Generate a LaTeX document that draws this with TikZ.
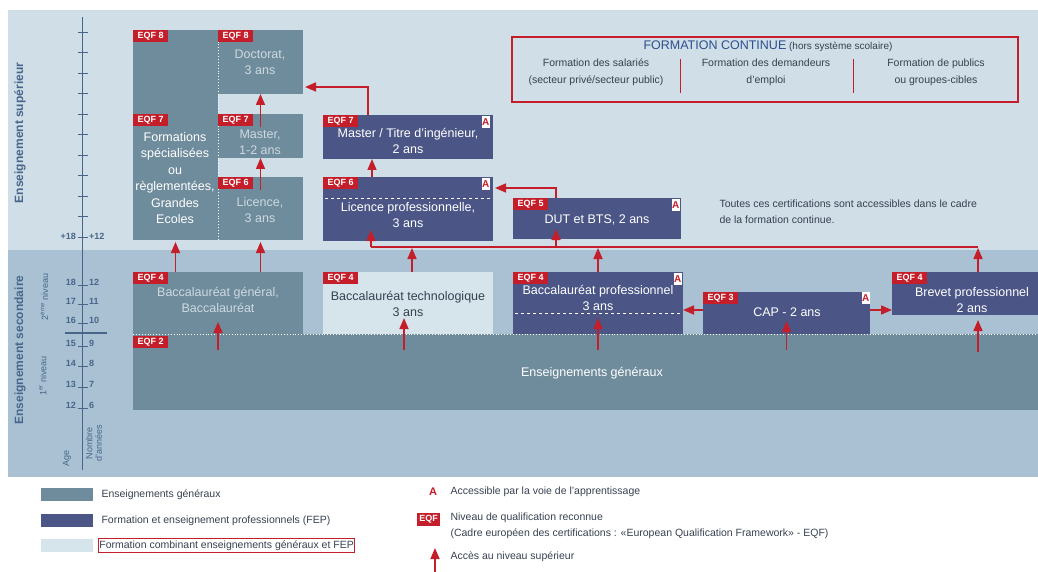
\documentclass[tikz,border=0pt]{standalone}
\usepackage{fontspec}
\setmainfont{Liberation Sans}
\usepackage{xcolor}
\usepackage{tikz}
\usetikzlibrary{arrows.meta,positioning,calc}
\definecolor{bgsup}{RGB}{208,222,231}
\definecolor{bgsec}{RGB}{169,193,210}
\definecolor{gen}{RGB}{111,140,156}
\definecolor{fep}{RGB}{75,86,134}
\definecolor{mix}{RGB}{214,228,236}
\definecolor{eqfred}{RGB}{196,30,42}
\definecolor{axisblue}{RGB}{72,102,138}
\definecolor{titleblue}{RGB}{46,79,142}
\definecolor{darktext}{RGB}{55,65,80}
\definecolor{pale}{RGB}{205,217,225}
\tikzset{
    bloc/.style={
        anchor=north west,
        inner sep=0pt,
        outer sep=0pt
    },
    genbox/.style={bloc, fill=gen},
    fepbox/.style={bloc, fill=fep},
    mixbox/.style={bloc, fill=mix},
    eqf/.style={
        anchor=north west,
        fill=eqfred,
        text=white,
        inner sep=0pt,
        minimum width=35pt,
        minimum height=12pt,
        font=\bfseries\fontsize{9}{9}\selectfont
    },
    atag/.style={
        anchor=north east,
        fill=white,
        text=eqfred,
        inner sep=0pt,
        minimum width=8pt,
        minimum height=12pt,
        font=\bfseries\fontsize{10}{10}\selectfont
    },
    boxtext/.style={
        align=center,
        text=white,
        font=\fontsize{12.5}{16.4}\selectfont
    },
    flow/.style={-{Triangle[length=11pt,width=9pt]}, draw=eqfred, line width=1.6pt},
    link/.style={draw=eqfred, line width=1.3pt},
    whiteline/.style={draw=white, dotted, line width=0.9pt},
    axisline/.style={draw=axisblue, line width=0.9pt},
    num/.style={text=axisblue, inner sep=1pt, font=\bfseries\fontsize{9}{9}\selectfont},
    sidetext/.style={rotate=90, text=axisblue, font=\bfseries\fontsize{12}{12}\selectfont},
    smallside/.style={rotate=90, text=axisblue, align=center, font=\fontsize{9}{9.5}\selectfont},
    fctext/.style={align=center, text=darktext, font=\fontsize{10.5}{17}\selectfont},
    legtext/.style={anchor=west, text=darktext, font=\fontsize{10.5}{16}\selectfont}
}
\newcommand{\expo}[1]{\textsuperscript{#1}}

\begin{document}
\begin{tikzpicture}[x=1pt, y=-1pt]
        \useasboundingbox (0,0) rectangle (1038,572);
        \fill[bgsup] (8,10) rectangle (1038,250);
        \fill[bgsec] (8,250) rectangle (1038,477);

        \draw[axisline] (82,17) -- (82,470);
        \foreach \i in {0,...,10}
            \draw[axisline] (78,{32+20.5*\i}) -- (88,{32+20.5*\i});
        \node[num, anchor=east] (plus18) at (77,236) {+18};
        \node[num, anchor=west] (plus12) at (88,236) {+12};
        \foreach \a/\n/\y in {18/12/282,17/11/301,16/10/320,15/9/343,14/8/363,13/7/384,12/6/405} {
            \draw[axisline] (78,{\y+3}) -- (88,{\y+3});
            \node[num, anchor=east] (age\a) at (77,\y) {\a};
            \node[num, anchor=west] (an\n) at (88,\y) {\n};
        }
        \draw[axisblue, line width=1.3pt] (65,333) -- (107,333);
        \node[sidetext] (sup) at (20,133) {Enseignement supérieur};
        \node[sidetext] (sec) at (20,350) {Enseignement secondaire};
        \node[smallside] (niv2) at (44,297) {2\expo{ème} niveau};
        \node[smallside] (niv1) at (43,376) {1\expo{er} niveau};
        \node[smallside] (age) at (67,458) {Age};
        \node[smallside] (nbans) at (94,443) {Nombre\\d'années};

        \node[genbox, minimum width=85pt, minimum height=210pt] (fspec) at (133,30) {};
        \node[genbox, minimum width=85pt, minimum height=64pt] (doct) at (218,30) {};
        \node[genbox, minimum width=85pt, minimum height=44pt] (mast) at (218,114) {};
        \node[genbox, minimum width=85pt, minimum height=63pt] (lic) at (218,177) {};
        \node[fepbox, minimum width=170pt, minimum height=44pt] (ming) at (323,115) {};
        \node[fepbox, minimum width=170pt, minimum height=64pt] (licpro) at (323,177) {};
        \node[fepbox, minimum width=168pt, minimum height=41pt] (dut) at (513,198) {};
        \node[genbox, minimum width=170pt, minimum height=62pt] (bacgen) at (133,272) {};
        \node[mixbox, minimum width=170pt, minimum height=62pt] (bactech) at (323,272) {};
        \node[fepbox, minimum width=170pt, minimum height=62pt] (bacpro) at (513,272) {};
        \node[fepbox, minimum width=167pt, minimum height=42pt] (cap) at (703,292) {};
        \node[fepbox, minimum width=146pt, minimum height=43pt] (brevet) at (892,272) {};
        \node[genbox, minimum width=905pt, minimum height=76pt] (eg) at (133,334) {};

        \draw[whiteline] (fspec.north east) -- (fspec.south east);
        \draw[whiteline] (eg.north west) -- (eg.north east);
        \draw[white, dashed, line width=0.9pt] ([shift={(2pt,-21pt)}]licpro.north west) -- ([shift={(-2pt,-21pt)}]licpro.north east);
        \draw[white, dashed, line width=0.9pt] ([shift={(2pt,-41pt)}]bacpro.north west) -- ([shift={(-2pt,-41pt)}]bacpro.north east);

        \node[eqf] (qfspec8) at (fspec.north west) {EQF 8};
        \node[eqf] (qfspec7) at ([yshift=-84pt]fspec.north west) {EQF 7};
        \node[eqf] (qdoct) at (doct.north west) {EQF 8};
        \node[eqf] (qmast) at (mast.north west) {EQF 7};
        \node[eqf] (qlic) at (lic.north west) {EQF 6};
        \node[eqf] (qming) at (ming.north west) {EQF 7};
        \node[eqf] (qlicpro) at (licpro.north west) {EQF 6};
        \node[eqf] (qdut) at (dut.north west) {EQF 5};
        \node[eqf] (qbacgen) at (bacgen.north west) {EQF 4};
        \node[eqf] (qbactech) at (bactech.north west) {EQF 4};
        \node[eqf] (qbacpro) at (bacpro.north west) {EQF 4};
        \node[eqf] (qcap) at (cap.north west) {EQF 3};
        \node[eqf] (qbrevet) at (brevet.north west) {EQF 4};
        \node[eqf] (qeg) at ([yshift=-2pt]eg.north west) {EQF 2};

        \node[atag] (aming) at ([shift={(-3pt,-1pt)}]ming.north east) {A};
        \node[atag] (alicpro) at ([shift={(-3pt,-1pt)}]licpro.north east) {A};
        \node[atag] (adut) at ([shift={(-1pt,-1pt)}]dut.north east) {A};
        \node[atag] (abacpro) at ([shift={(-1pt,-1pt)}]bacpro.north east) {A};
        \node[atag] (acap) at ([shift={(0pt,0pt)}]cap.north east) {A};

        \node[boxtext] (tfspec) at (175,178) {Formations\\spécialisées\\ou\\règlementées,\\Grandes\\Ecoles};
        \node[boxtext, text=pale] (tdoct) at (260,62) {Doctorat,\\3 ans};
        \node[boxtext, text=pale] (tmast) at (260,142) {Master,\\1-2 ans};
        \node[boxtext, text=pale] (tlic) at (260,210) {Licence,\\3 ans};
        \node[boxtext] (tming) at (408,141) {Master / Titre d'ingénieur,\\2 ans};
        \node[boxtext] (tlicpro) at (408,215) {Licence professionnelle,\\3 ans};
        \node[boxtext] (tdut) at (597,220) {DUT et BTS, 2 ans};
        \node[boxtext, text=pale] (tbacgen) at (218,300) {Baccalauréat général,\\Baccalauréat};
        \node[boxtext, text=darktext] (tbactech) at (408,304) {Baccalauréat technologique\\3 ans};
        \node[boxtext] (tbacpro) at (598,298) {Baccalauréat professionnel\\3 ans};
        \node[boxtext] (tcap) at (787,312) {CAP - 2 ans};
        \node[boxtext] (tbrevet) at (972,300) {Brevet professionnel\\2 ans};
        \node[boxtext] (teg) at (592,373) {Enseignements généraux};

        \node[bloc, draw=eqfred, line width=1.2pt, minimum width=506pt, minimum height=65pt] (fc) at (512,37) {};
        \node[text=darktext] (fctitle) at (768,46) {\textcolor{titleblue}{\fontsize{12.5}{14}\selectfont FORMATION CONTINUE} {\fontsize{10}{12}\selectfont(hors système scolaire)}};
        \node[fctext] (fcsal) at (596,72) {Formation des salariés\\(secteur privé/secteur public)};
        \node[fctext] (fcdem) at (766,72) {Formation des demandeurs\\d'emploi};
        \node[fctext] (fcpub) at (936,72) {Formation de publics\\ou groupes-cibles};
        \draw[eqfred, line width=1pt] (680,59) -- (680,93);
        \draw[eqfred, line width=1pt] (853,59) -- (853,93);
        \node[legtext, align=left] (note) at (716,212) {Toutes ces certifications sont accessibles dans le cadre\\de la formation continue.};

        \draw[flow] ([yshift=-13pt]lic.north) -- (mast.south);
        \draw[flow] ([yshift=-13pt]mast.north) -- (doct.south);
        \draw[flow] ([xshift=-40pt]ming.north) |- ([shift={(2pt,7pt)}]doct.south east);
        \draw[flow] ([xshift=-36pt]licpro.north) -- ([xshift=-36pt]ming.south);
        \draw[flow] ([xshift=-41pt]dut.north) |- ([shift={(2pt,-11pt)}]licpro.north east);

        \coordinate (busl) at (371,247);
        \coordinate (busr) at (978,247);
        \draw[link] (busl) -- (busr);
        \draw[flow] (busl) -- ([yshift=11pt]licpro.south -| busl);
        \draw[flow] ([xshift=-41pt]dut.south |- busl) -- ([shift={(-41pt,10pt)}]dut.south);
        \draw[flow, shorten >=1pt] ([xshift=4pt]bactech.north) -- ([xshift=4pt]bactech.north |- busl);
        \draw[flow, shorten >=1pt] (bacpro.north) -- (bacpro.north |- busl);
        \draw[flow, shorten >=1pt] (busr |- brevet.north) -- (busr);

        \draw[flow] (bacgen.north -| fspec.south) -- ([yshift=-2pt]fspec.south);
        \draw[flow] (bacgen.north -| lic.south) -- ([yshift=-2pt]lic.south);
        \draw[flow] ([yshift=-16pt]bacgen.south) -- ([yshift=12pt]bacgen.south);
        \draw[flow] ([shift={(-4pt,-16pt)}]bactech.south) -- ([shift={(-4pt,16pt)}]bactech.south);
        \draw[flow] ([yshift=-16pt]bacpro.south) -- ([yshift=16pt]bacpro.south);
        \draw[flow] ([yshift=-16pt]cap.south) -- ([yshift=13pt]cap.south);
        \draw[flow] ([yshift=-18pt]eg.north -| busr) -- ([yshift=-5pt]brevet.south -| busr);
        \draw[flow] ([yshift=3pt]cap.west) -- ([yshift=3pt]cap.west -| bacpro.east);
        \draw[flow] ([yshift=3pt]cap.east) -- ([yshift=3pt]cap.east -| brevet.west);

        \node[genbox, minimum width=52pt, minimum height=13pt] (lgen) at (41,488) {};
        \node[fepbox, minimum width=52pt, minimum height=13pt] (lfep) at (41,514) {};
        \node[mixbox, minimum width=52pt, minimum height=13pt] (lmix) at (41,539) {};
        \node[legtext, right=5pt of lgen] (lgent) {Enseignements généraux};
        \node[legtext, right=5pt of lfep] (lfept) {Formation et enseignement professionnels (FEP)};
        \node[legtext, right=5pt of lmix, draw=eqfred, line width=0.8pt, inner xsep=1pt, inner ysep=2pt] (lmixt) {Formation combinant enseignements généraux et FEP};

        \node[text=eqfred, font=\bfseries\fontsize{11}{11}\selectfont] (la) at (433,492) {A};
        \node[legtext] (lat) at (447,492) {Accessible par la voie de l'apprentissage};
        \node[eqf, minimum width=23pt, minimum height=13pt] (leqf) at (417,513) {EQF};
        \node[legtext, align=left] (leqft) at (447,526) {Niveau de qualification reconnue\\(Cadre européen des certifications : «European Qualification Framework» - EQF)};
        \coordinate (lfoot) at (435,572);
        \coordinate (ltip) at (435,548);
        \draw[flow] (lfoot) -- (ltip);
        \node[legtext] (lacc) at (447,557) {Accès au niveau supérieur};
    \end{tikzpicture}
\end{document}
